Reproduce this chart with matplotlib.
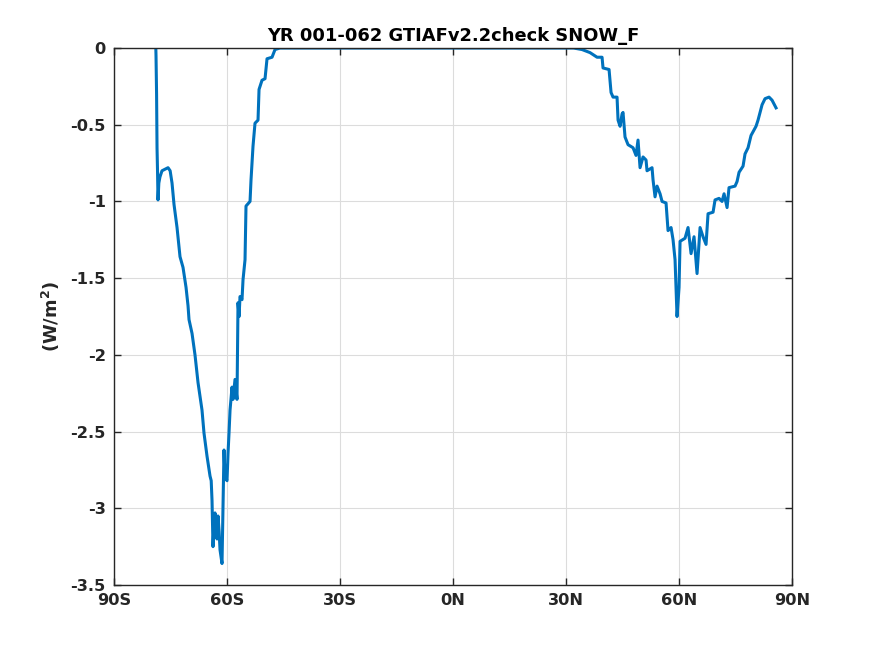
import matplotlib
matplotlib.use('Agg')
from matplotlib import pyplot as plt

plt.rcParams['font.family'] = ['DejaVu Sans']
plt.rcParams['font.weight'] = 'bold'

# latitude (deg) and zonal mean snow heat flux (W/m^2)
lat_south = [-78.9, -78.85, -78.7, -78.58, -78.45, -78.32, -78.1, -77.8, -77.26,
             -76.46, -75.66, -75.1, -74.6, -74.07, -73.27, -72.48, -71.68,
             -70.88, -70.35, -70.09, -69.29, -68.5, -67.7, -66.64, -66.11,
             -65.31, -64.51, -64.2, -63.98, -63.72, -63.45, -63.19, -62.9,
             -62.65, -62.39, -62.1, -61.86, -61.33, -61.06, -60.8, -60.53,
             -60.0, -59.73, -59.47, -59.2, -58.67, -58.41, -57.88, -57.35,
             -57.2, -57.08, -56.8, -56.55, -56.02, -55.75, -55.22, -54.96,
             -53.89, -53.63, -53.1, -52.57, -51.77, -51.5, -50.71, -49.91,
             -49.38, -48.05, -47.26, -45.93]
val_south = [0.0, -0.05, -0.3, -0.65, -0.8, -0.99, -0.88, -0.84, -0.8,
             -0.79, -0.78, -0.8, -0.88, -1.02, -1.17, -1.36, -1.43,
             -1.56, -1.68, -1.77, -1.86, -2.0, -2.18, -2.36, -2.51,
             -2.66, -2.79, -2.82, -2.95, -3.25, -3.1, -3.03, -3.18,
             -3.2, -3.05, -3.15, -3.27, -3.36, -2.99, -2.62, -2.8,
             -2.82, -2.64, -2.51, -2.36, -2.21, -2.29, -2.16, -2.29,
             -1.9, -1.66, -1.75, -1.62, -1.64, -1.51, -1.38, -1.03,
             -1.0, -0.86, -0.64, -0.49, -0.47, -0.27, -0.21, -0.2,
             -0.07, -0.06, -0.01, 0.0]
lat_mid = [-40.0, -20.0, 0.0, 20.0, 32.0]
val_mid = [0.0, 0.0, 0.0, 0.0, 0.0]
lat_north = [34.25, 36.37, 38.23, 39.56, 39.82, 41.42, 41.95, 42.48, 43.54,
             43.81, 44.34, 44.87, 45.13, 45.66, 46.46, 47.79, 48.58, 49.11,
             49.65, 50.44, 51.24, 51.5, 52.83, 53.1, 53.63, 54.16, 54.96,
             55.49, 56.55, 57.08, 57.88, 58.41, 58.94, 59.47, 60.0, 60.27,
             61.59, 62.39, 63.19, 63.98, 64.78, 65.58, 66.37, 67.17, 67.7,
             69.03, 69.56, 70.62, 71.42, 71.95, 72.75, 73.27, 74.87, 75.4,
             75.93, 76.99, 77.52, 78.32, 79.11, 80.44, 80.97, 82.04, 82.83,
             83.89, 84.69, 85.75]
val_north = [-0.01, -0.03, -0.06, -0.06, -0.13, -0.14, -0.29, -0.32, -0.32,
             -0.47, -0.51, -0.43, -0.42, -0.58, -0.63, -0.65, -0.7, -0.6,
             -0.78, -0.71, -0.73, -0.8, -0.78, -0.86, -0.97, -0.9, -0.95,
             -1.0, -1.01, -1.19, -1.17, -1.25, -1.38, -1.75, -1.56, -1.26,
             -1.24, -1.17, -1.34, -1.23, -1.47, -1.17, -1.23, -1.28, -1.08,
             -1.07, -0.99, -0.98, -1.0, -0.95, -1.04, -0.91, -0.9, -0.87,
             -0.81, -0.77, -0.69, -0.65, -0.57, -0.51, -0.47, -0.37, -0.33,
             -0.32, -0.34, -0.39]

lat = lat_south + lat_mid + lat_north
val = val_south + val_mid + val_north

xticks = [-90, -60, -30, 0, 30, 60, 90]
xticklabels = ['90S', '60S', '30S', '0N', '30N', '60N', '90N']
yticks = [-3.5, -3, -2.5, -2, -1.5, -1, -0.5, 0]
yticklabels = ['-3.5', '-3', '-2.5', '-2', '-1.5', '-1', '-0.5', '0']

fig = plt.figure(figsize=(8.75, 6.56), dpi=100)
ax = fig.add_axes([0.1303, 0.1082, 0.7749, 0.8186])
ax.plot(lat, val, color='#0072BD', linewidth=2.2)

ax.set_xlim(-90, 90)
ax.set_ylim(-3.5, 0)
ax.set_xticks(xticks)
ax.set_xticklabels(xticklabels)
ax.set_yticks(yticks)
ax.set_yticklabels(yticklabels)
ax.grid(True, color='#dcdcdc', linewidth=0.8)
ax.set_axisbelow(True)
ax.tick_params(direction='in', length=5, width=1, top=True, right=True,
               labelsize=11.7, colors='#262626', pad=6)
for s in ax.spines.values():
    s.set_color('#262626')
    s.set_linewidth(1)

ax.set_title('YR 001-062 GTIAFv2.2check SNOW_F', fontsize=12.9,
             fontweight='bold', pad=5)
ax.set_ylabel('(W/m$^\\mathbf{2}$)', fontsize=12.9, fontweight='bold',
              color='#262626', labelpad=6)

fig.savefig('out.png', dpi=100)
